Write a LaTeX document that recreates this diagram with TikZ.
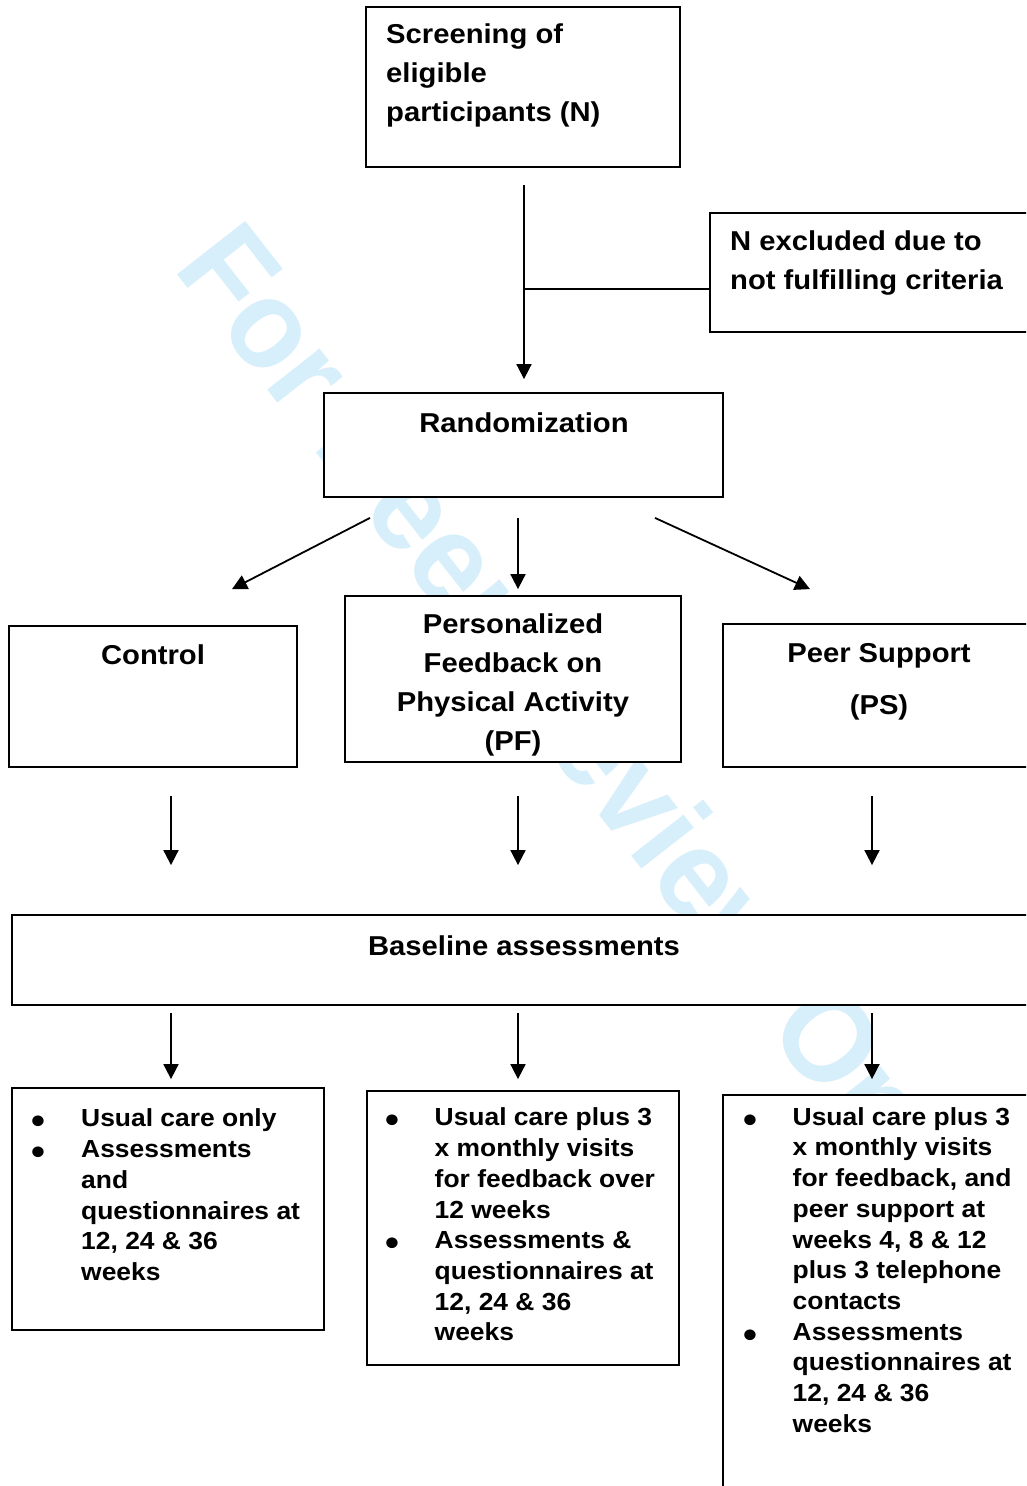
\documentclass[tikz,border=0pt]{standalone}
\usepackage{fontspec}
\usepackage{graphicx}
\setmainfont{Liberation Sans}[FakeStretch=1.07]
\newfontfamily\wmfont{Liberation Sans}[FakeStretch=0.95]
\usetikzlibrary{arrows.meta}
\definecolor{wmblue}{RGB}{214,239,251}
\newcommand\tstrut{\rule{0pt}{30pt}}
\newcommand\bul{\makebox[48pt][l]{\hspace{-1.5pt}\raisebox{-7pt}{\scalebox{1.5}{\char"2022}}}}
\newcommand\ind{\hspace*{48pt}}
\begin{document}
\begin{tikzpicture}[x=1pt,y=-1pt,
  boxnode/.style={draw, line width=1.8pt, fill=white, inner sep=0pt},
  maintxt/.style={inner sep=0pt, font=\bfseries\fontsize{27.3}{39}\selectfont},
  smalltxt/.style={inner sep=0pt, font=\bfseries\fontsize{24.7}{30.7}\selectfont, align=left, anchor=north west},
  arr/.style={line width=1.8pt, -{Triangle[length=15pt,width=15pt]}},
  plainline/.style={line width=1.8pt},
  wmark/.style={inner sep=0pt, text=wmblue, font=\wmfont\bfseries\fontsize{126}{126}\selectfont}]
\useasboundingbox (0,0) rectangle (1026,1486);
\clip (0,0) rectangle (1026,1486);
\fill[white] (0,0) rectangle (1026,1486);

% watermark
\node[wmark, anchor=base west, rotate=-52] (wm) at (172,268) {For Peer Review Only};

% boxes
\node[boxnode, minimum width=314pt, minimum height=160pt] (screen) at (523,87) {};
\node[boxnode, minimum width=320pt, minimum height=119pt] (excl) at (870,272.5) {};
\node[boxnode, minimum width=399pt, minimum height=104pt] (rand) at (523.5,445) {};
\node[boxnode, minimum width=288pt, minimum height=141pt] (ctrl) at (153,696.5) {};
\node[boxnode, minimum width=336pt, minimum height=166pt] (pf) at (513,679) {};
\node[boxnode, minimum width=307pt, minimum height=143pt] (ps) at (876.5,695.5) {};
\node[boxnode, minimum width=1018pt, minimum height=90pt] (base) at (521,960) {};
\node[boxnode, minimum width=312pt, minimum height=242pt] (b1) at (168,1209) {};
\node[boxnode, minimum width=312pt, minimum height=274pt] (b2) at (523,1228) {};
\node[boxnode, minimum width=307pt, minimum height=395pt] (b3) at (876.5,1292.5) {};

% texts
\node[maintxt, align=left, anchor=north west] (screentxt) at (386,13)
  {\tstrut Screening of\\eligible\\participants (N)};
\node[maintxt, align=left, anchor=north west] (excltxt) at (730,220)
  {\tstrut N excluded due to\\not fulfilling criteria};
\node[maintxt, anchor=base] (randtxt) at (524,432) {Randomization};
\node[maintxt, anchor=base] (ctrltxt) at (153,664) {Control};
\node[maintxt, align=center, anchor=north] (pftxt) at (513,603)
  {\tstrut Personalized\\Feedback on\\Physical Activity\\(PF)};
\node[maintxt, anchor=base] (pstxt1) at (879,662) {Peer Support};
\node[maintxt, anchor=base] (pstxt2) at (879,714) {(PS)};
\node[maintxt, anchor=base] (basetxt) at (524,955) {Baseline assessments};

\node[smalltxt] (b1txt) at (33,1096.7)
  {\tstrut\bul Usual care only\\
   \bul Assessments\\
   \ind and\\
   \ind questionnaires at\\
   \ind 12, 24 \& 36\\
   \ind weeks};
\node[smalltxt] (b2txt) at (386.5,1095.7)
  {\tstrut\bul Usual care plus 3\\
   \ind x monthly visits\\
   \ind for feedback over\\
   \ind 12 weeks\\
   \bul Assessments \&\\
   \ind questionnaires at\\
   \ind 12, 24 \& 36\\
   \ind weeks};
\node[smalltxt] (b3txt) at (744.5,1095)
  {\tstrut\bul Usual care plus 3\\
   \ind x monthly visits\\
   \ind for feedback, and\\
   \ind peer support at\\
   \ind weeks 4, 8 \& 12\\
   \ind plus 3 telephone\\
   \ind contacts\\
   \bul Assessments\\
   \ind questionnaires at\\
   \ind 12, 24 \& 36\\
   \ind weeks};

% connectors
\draw[arr] ([xshift=1pt,yshift=-17pt]screen.south) -- ([xshift=0.5pt,yshift=13pt]rand.north);
\coordinate (junc) at ([xshift=1pt,yshift=-121pt]screen.south);
\draw[plainline] (junc) -- (junc -| excl.west);

\draw[arr] ([xshift=-153.5pt,yshift=-20pt]rand.south) -- ([xshift=79pt,yshift=36pt]ctrl.north);
\draw[arr] ([xshift=-5.5pt,yshift=-20pt]rand.south) -- ([xshift=5pt,yshift=6pt]pf.north);
\draw[arr] ([xshift=131.5pt,yshift=-20pt]rand.south) -- ([xshift=-66.5pt,yshift=34pt]ps.north);

\draw[arr] ([xshift=18pt,yshift=-28pt]ctrl.south) -- ([xshift=-350pt,yshift=49pt]base.north);
\draw[arr] ([xshift=5pt,yshift=-33pt]pf.south) -- ([xshift=-3pt,yshift=49pt]base.north);
\draw[arr] ([xshift=-4.5pt,yshift=-28pt]ps.south) -- ([xshift=351pt,yshift=49pt]base.north);

\draw[arr] ([xshift=-350pt,yshift=-7pt]base.south) -- ([xshift=3pt,yshift=8pt]b1.north);
\draw[arr] ([xshift=-3pt,yshift=-7pt]base.south) -- ([xshift=-5pt,yshift=11pt]b2.north);
\draw[arr] ([xshift=351pt,yshift=-7pt]base.south) -- ([xshift=-4.5pt,yshift=15pt]b3.north);
\end{tikzpicture}
\end{document}
